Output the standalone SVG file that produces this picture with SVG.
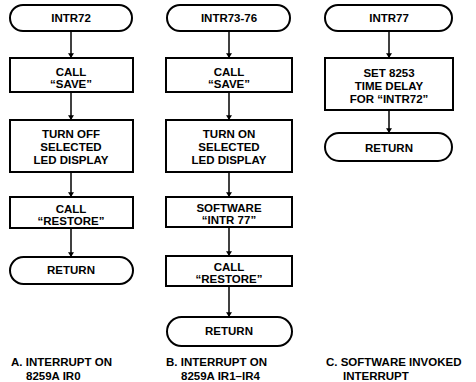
<svg xmlns="http://www.w3.org/2000/svg" width="476" height="382" viewBox="0 0 476 382">
<defs>
<style>
.s{fill:#fff;stroke:#000;stroke-width:2}
.t{font-family:"Liberation Sans",Arial,sans-serif;font-weight:bold;font-size:11.5px;text-anchor:middle;fill:#000}
.c{font-family:"Liberation Sans",Arial,sans-serif;font-weight:bold;font-size:11.5px;fill:#000}
.l{stroke:#000;stroke-width:1.5;fill:none;marker-end:url(#a)}
</style>
<marker id="a" viewBox="0 0 8 10" refX="8" refY="5" markerWidth="5" markerHeight="6" orient="auto" markerUnits="userSpaceOnUse"><path d="M0,0L8,5L0,10z" fill="#000"/></marker>
</defs>
<g id="connectors">
<line class="l" x1="71" y1="31" x2="71" y2="58"/>
<line class="l" x1="71" y1="92" x2="71" y2="120"/>
<line class="l" x1="71" y1="172" x2="71" y2="197"/>
<line class="l" x1="71" y1="228" x2="71" y2="257"/>
<line class="l" x1="229" y1="31" x2="229" y2="58"/>
<line class="l" x1="229" y1="92" x2="229" y2="120"/>
<line class="l" x1="229" y1="172" x2="229" y2="197"/>
<line class="l" x1="229" y1="227" x2="229" y2="256"/>
<line class="l" x1="229" y1="286" x2="229" y2="317"/>
<line class="l" x1="389" y1="31" x2="389" y2="58"/>
<line class="l" x1="389" y1="110" x2="389" y2="133"/>
</g>
<g id="a1"><rect class="s" x="10" y="5" width="122" height="26" rx="13"/><text class="t" x="71" y="22">INTR72</text></g>
<g id="a2"><rect class="s" x="10" y="58" width="123" height="34"/><text class="t" x="71" y="76">CALL</text><text class="t" x="71" y="88">“SAVE”</text></g>
<g id="a3"><rect class="s" x="10" y="120" width="123" height="52"/><text class="t" x="71" y="138">TURN OFF</text><text class="t" x="71" y="151">SELECTED</text><text class="t" x="71" y="164">LED DISPLAY</text></g>
<g id="a4"><rect class="s" x="10" y="197" width="123" height="31"/><text class="t" x="71" y="213">CALL</text><text class="t" x="71" y="225">“RESTORE”</text></g>
<g id="a5"><rect class="s" x="10" y="257" width="123" height="27" rx="13.5"/><text class="t" x="71" y="274">RETURN</text></g>
<g id="b1"><rect class="s" x="167" y="5" width="123" height="26" rx="13"/><text class="t" x="229" y="22">INTR73-76</text></g>
<g id="b2"><rect class="s" x="166" y="58" width="126" height="34"/><text class="t" x="229" y="76">CALL</text><text class="t" x="229" y="88">“SAVE”</text></g>
<g id="b3"><rect class="s" x="166" y="120" width="126" height="52"/><text class="t" x="229" y="138">TURN ON</text><text class="t" x="229" y="151">SELECTED</text><text class="t" x="229" y="164">LED DISPLAY</text></g>
<g id="b4"><rect class="s" x="166" y="197" width="126" height="30"/><text class="t" x="229" y="212">SOFTWARE</text><text class="t" x="229" y="224">“INTR 77”</text></g>
<g id="b5"><rect class="s" x="166" y="256" width="126" height="30"/><text class="t" x="229" y="271">CALL</text><text class="t" x="229" y="283">“RESTORE”</text></g>
<g id="b6"><rect class="s" x="167" y="317" width="125" height="29" rx="14.5"/><text class="t" x="229" y="335">RETURN</text></g>
<g id="c1"><rect class="s" x="325" y="5" width="127" height="26" rx="13"/><text class="t" x="389" y="22">INTR77</text></g>
<g id="c2"><rect class="s" x="325" y="58" width="128" height="52"/><text class="t" x="389" y="77">SET 8253</text><text class="t" x="389" y="90">TIME DELAY</text><text class="t" x="389" y="103">FOR “INTR72”</text></g>
<g id="c3"><rect class="s" x="325" y="133" width="127" height="28" rx="14"/><text class="t" x="389" y="152">RETURN</text></g>
<g id="captions">
<text class="c" x="11" y="366">A.  INTERRUPT ON</text><text class="c" x="26" y="380">8259A IR0</text>
<text class="c" x="166" y="366">B.  INTERRUPT ON</text><text class="c" x="181" y="380">8259A IR1–IR4</text>
<text class="c" x="326" y="366">C.  SOFTWARE INVOKED</text><text class="c" x="343" y="380">INTERRUPT</text>
</g>
</svg>
